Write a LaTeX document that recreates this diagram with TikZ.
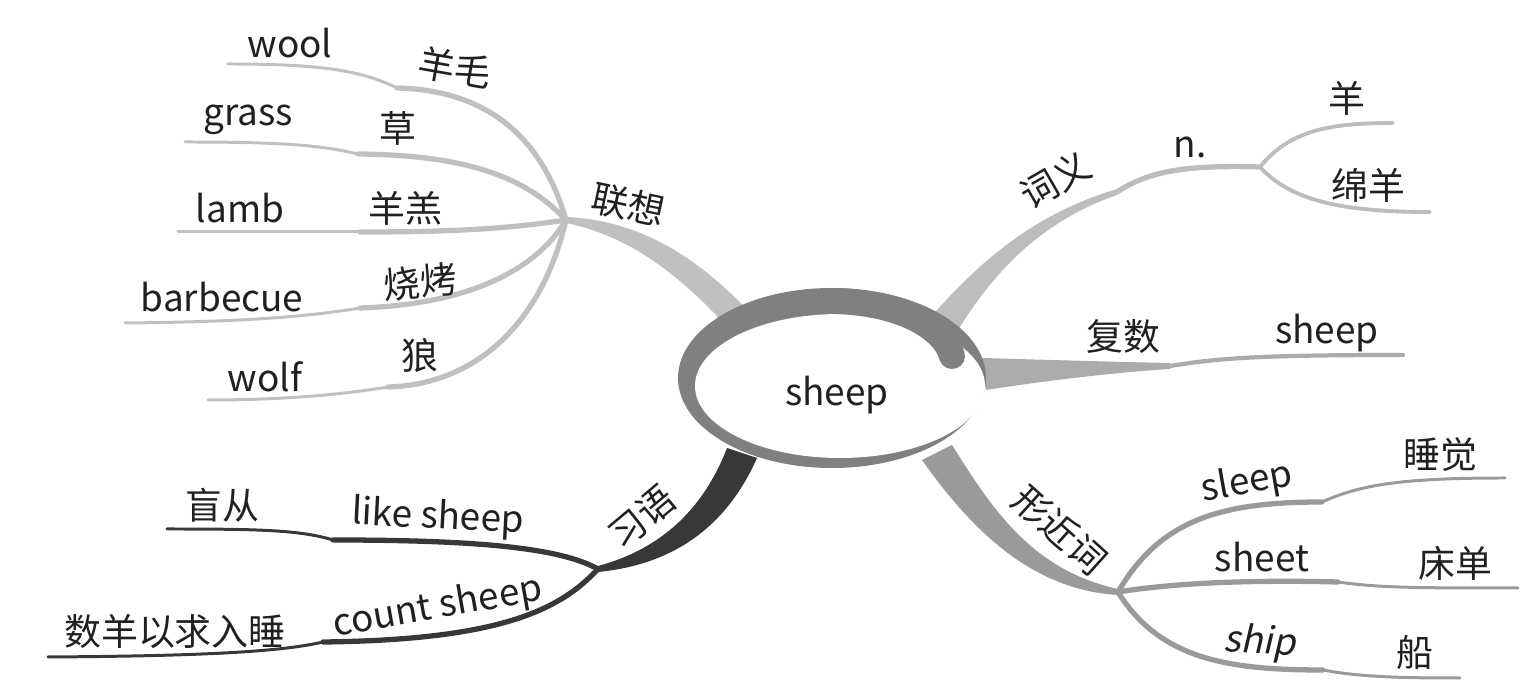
\documentclass[tikz,border=0pt]{standalone}
\usepackage{fontspec}
\setmainfont{Noto Sans CJK SC}
\newfontfamily\slantfont{Noto Sans CJK SC}[FakeSlant=0.18]
\usetikzlibrary{calc}

\definecolor{ringgray}{HTML}{808080}
\definecolor{assocgray}{HTML}{C0C0C0}
\definecolor{meangray}{HTML}{BDBDBD}
\definecolor{plurgray}{HTML}{ABABAB}
\definecolor{simgray}{HTML}{9A9A9A}
\definecolor{idiomgray}{HTML}{383838}
\definecolor{inkgray}{HTML}{231F20}

\begin{document}
\begin{tikzpicture}[x=0.01cm, y=-0.01cm, line cap=round, line join=round,
  word/.style={font=\fontsize{10.5}{12}\selectfont, text=inkgray, inner sep=0pt},
  twig/.style={line width=1.5pt},
  tip/.style={line width=0.85pt}]
  \useasboundingbox (0,0) rectangle (1536,695);

  % Points de branchement
  \coordinate (assoc) at (566,220);
  \coordinate (meankink) at (1117,192);
  \coordinate (nhub) at (1260,167);
  \coordinate (plurkink) at (1170,366);
  \coordinate (simhub) at (1118,592);
  \coordinate (idiomhub) at (598,569);

  % Branches principales (effilees)
  \fill[assocgray] (755,318) .. controls (700,258) and (640,220) .. ($(assoc)+(0,-3)$)
    -- ($(assoc)+(0,3)$) .. controls (630,236) and (680,275) .. (732,332) -- cycle;
  \fill[meangray] (930,318) .. controls (985,255) and (1040,212) .. ($(meankink)+(0,-3)$)
    -- ($(meankink)+(0,3)$) .. controls (1045,220) and (995,268) .. (955,335) -- cycle;
  \fill[plurgray] (982,358) .. controls (1050,360) and (1120,362) .. ($(plurkink)+(0,-3)$)
    -- ($(plurkink)+(0,3)$) .. controls (1120,372) and (1050,380) .. (986,390) -- cycle;
  \fill[simgray] (952,445) .. controls (990,505) and (1030,570) .. ($(simhub)+(0,-3)$)
    -- ($(simhub)+(0,3)$) .. controls (1035,590) and (975,535) .. (922,460) -- cycle;
  \fill[idiomgray] (727,448) .. controls (705,505) and (665,548) .. ($(idiomhub)+(0,-3)$)
    -- ($(idiomhub)+(0,3)$) .. controls (670,565) and (725,530) .. (757,458) -- cycle;

  % Sous-branches : association
  \coordinate (kwool) at (397,88);   \coordinate (ewool) at (228,64);
  \coordinate (kgrass) at (358,154); \coordinate (egrass) at (185,142);
  \coordinate (klamb) at (360,232);  \coordinate (elamb) at (178,232);
  \coordinate (kbbq) at (360,308);   \coordinate (ebbq) at (125,323);
  \coordinate (kwolf) at (388,387);  \coordinate (ewolf) at (208,400);
  \begin{scope}[assocgray]
    \draw[twig] (assoc) .. controls (540,130) and (480,90) .. (kwool);
    \draw[tip] (kwool) .. controls (360,70) and (320,64) .. (ewool);
    \draw[twig] (assoc) .. controls (520,170) and (450,155) .. (kgrass);
    \draw[tip] (kgrass) .. controls (320,145) and (280,142) .. (egrass);
    \draw[twig] (assoc) .. controls (500,230) and (440,232) .. (klamb);
    \draw[tip] (klamb) -- (elamb);
    \draw[twig] (assoc) .. controls (530,280) and (450,305) .. (kbbq);
    \draw[tip] (kbbq) .. controls (300,318) and (230,322) .. (ebbq);
    \draw[twig] (assoc) .. controls (540,330) and (470,385) .. (kwolf);
    \draw[tip] (kwolf) .. controls (340,395) and (280,400) .. (ewolf);
  \end{scope}

  % Sous-branches : sens
  \coordinate (esheep1) at (1393,123);
  \coordinate (esheep2) at (1430,212);
  \draw[meangray, line width=1.5pt] (meankink) .. controls (1150,170) and (1190,165) .. (nhub);
  \draw[meangray, line width=1.1pt] (nhub) .. controls (1290,130) and (1330,123) .. (esheep1);
  \draw[meangray, line width=1.1pt] (nhub) .. controls (1290,200) and (1340,212) .. (esheep2);

  % Sous-branche : pluriel
  \coordinate (eplur) at (1403,355);
  \draw[plurgray, line width=1.2pt] (plurkink) .. controls (1220,358) and (1260,355) .. (eplur);

  % Sous-branches : mots proches
  \coordinate (ksleep) at (1322,502); \coordinate (esleep) at (1505,478);
  \coordinate (ksheet) at (1338,582); \coordinate (esheet) at (1518,588);
  \coordinate (kship) at (1323,670);  \coordinate (eship) at (1460,678);
  \begin{scope}[simgray]
    \draw[twig] (simhub) .. controls (1160,520) and (1220,502) .. (ksleep);
    \draw[tip] (ksleep) .. controls (1360,485) and (1400,478) .. (esleep);
    \draw[twig] (simhub) .. controls (1180,582) and (1260,580) .. (ksheet);
    \draw[tip] (ksheet) .. controls (1380,588) and (1420,588) .. (esheet);
    \draw[twig] (simhub) .. controls (1160,660) and (1230,670) .. (kship);
    \draw[tip] (kship) .. controls (1360,677) and (1400,678) .. (eship);
  \end{scope}

  % Sous-branches : expressions
  \coordinate (klike) at (333,540);  \coordinate (elike) at (167,529);
  \coordinate (kcount) at (323,642); \coordinate (ecount) at (48,657);
  \begin{scope}[idiomgray]
    \draw[twig] (idiomhub) .. controls (560,548) and (480,540) .. (klike);
    \draw[tip] (klike) .. controls (300,530) and (260,529) .. (elike);
    \draw[twig] (idiomhub) .. controls (560,610) and (500,640) .. (kcount);
    \draw[tip] (kcount) .. controls (280,652) and (200,656) .. (ecount);
  \end{scope}

  % Ellipse centrale
  \fill[ringgray] (832,378) ellipse [x radius=154, y radius=90];
  \fill[white] (840,386) ellipse [x radius=145, y radius=72];
  \draw[ringgray, line width=7.4pt] (835,301) .. controls (905,303) and (945,330) .. (952,356);
  \node[word] (core) at (837,395) {sheep};

  % Etiquettes
  \node[word, rotate=-12] (assoclbl) at (628,205) {联想};
  \node[word, rotate=-10] (woolzh) at (455,68) {羊毛};
  \node[word] (woolen) at (290,43) {wool};
  \node[word] (grasszh) at (398,128) {草};
  \node[word] (grassen) at (248,120) {grass};
  \node[word] (lambzh) at (405,208) {羊羔};
  \node[word] (lamben) at (240,208) {lamb};
  \node[word, rotate=5] (bbqzh) at (420,282) {烧烤};
  \node[word] (bbqen) at (222,297) {barbecue};
  \node[word] (wolfzh) at (420,355) {狼};
  \node[word] (wolfen) at (265,377) {wolf};

  \node[word, rotate=30] (meanlbl) at (1055,180) {词义};
  \node[word] (noun) at (1190,147) {n.};
  \node[word] (sheepzh) at (1347,98) {羊};
  \node[word] (ewezh) at (1368,185) {绵羊};

  \node[word] (plurlbl) at (1123,337) {复数};
  \node[word] (plural) at (1327,333) {sheep};

  \node[word, rotate=-42] (simlbl) at (1060,530) {形近词};
  \node[word, rotate=10] (sleepen) at (1247,483) {sleep};
  \node[word] (sleepzh) at (1440,455) {睡觉};
  \node[word] (sheeten) at (1262,557) {sheet};
  \node[word] (sheetzh) at (1455,563) {床单};
  \node[word, rotate=-3] (shipen) at (1260,643) {\slantfont ship};
  \node[word] (shipzh) at (1415,653) {船};

  \node[word, rotate=40] (idiomlbl) at (642,517) {习语};
  \node[word, rotate=-3] (likeen) at (438,518) {like sheep};
  \node[word] (likezh) at (222,505) {盲从};
  \node[word, rotate=10] (counten) at (438,608) {count sheep};
  \node[word] (countzh) at (175,632) {数羊以求入睡};
\end{tikzpicture}
\end{document}
